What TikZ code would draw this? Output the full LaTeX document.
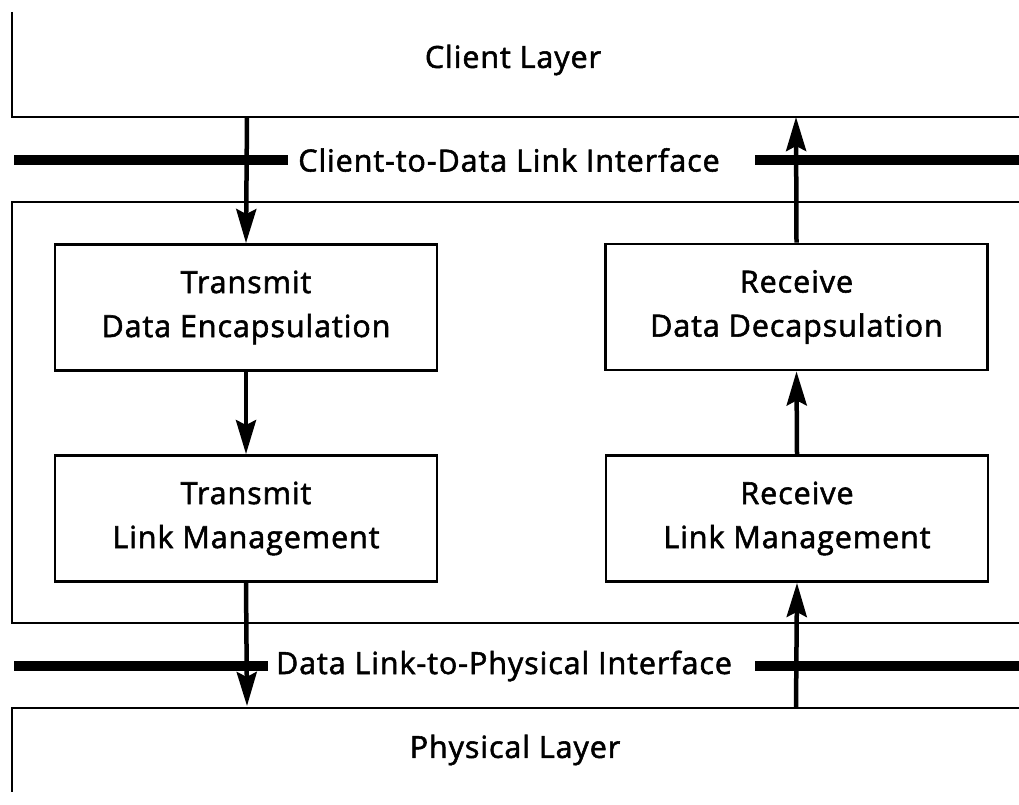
\documentclass[tikz,border=0pt]{standalone}
\usepackage{fontspec}
\setmainfont{Open Sans}[FakeBold=1.8,LetterSpace=3]
\usetikzlibrary{arrows.meta}
\begin{document}
\begin{tikzpicture}[x=1pt,y=-1pt,
  thin line/.style={line width=2.6pt},
  iface/.style={line width=10pt},
  block/.style={draw,line width=2.8pt,minimum width=382pt,minimum height=126pt,align=center,inner sep=0pt,font=\fontsize{30.5}{44}\selectfont},
  lbl/.style={font=\fontsize{30.5}{34}\selectfont,inner sep=0pt},
  flow/.style={line width=4.5pt,-{Stealth[length=34pt,width=20pt,inset=5pt]},shorten >=0pt},
]
\useasboundingbox (0,0) rectangle (1019,805);
% Client layer
\draw[thin line] (12,12) -- (12,117) -- (1019,117);
\node[lbl] (client) at (513,60) {Client Layer};
% Client-to-Data Link interface
\node[lbl] (ci) at (509,160) {Client-to-Data Link Interface};
\draw[iface] (14,160) -- (288,160);
\draw[iface] (755,160) -- (1019,160);
% Data link layer box
\draw[thin line] (1019,202) -- (12,202) -- (12,623) -- (1019,623);
% Data Link-to-Physical interface
\node[lbl] (pi) at (504,666) {Data Link-to-Physical Interface};
\draw[iface] (14,666) -- (268,666);
\draw[iface] (755,666) -- (1019,666);
% Physical layer
\draw[thin line] (1019,708) -- (12,708) -- (12,792);
\node[lbl] (phys) at (515,750) {Physical Layer};
% Blocks
\node[block] (tde) at (246,307.5) {Transmit\\Data Encapsulation};
\node[block] (tlm) at (246,518.5) {Transmit\\Link Management};
\node[block] (rdd) at (796.5,307) {Receive\\Data Decapsulation};
\node[block] (rlm) at (797,518.5) {Receive\\Link Management};
% connector end points
\coordinate (ctop) at (247,117);
\coordinate (cbot) at (247,706);
\coordinate (rtop) at (796,117);
\coordinate (rbot) at (796,708);
% flows
\draw[flow] (ctop) -- (tde.north);
\draw[flow] (tde.south) -- (tlm.north);
\draw[flow] (tlm.south) -- (cbot);
\draw[flow] (rbot) -- (rlm.south);
\draw[flow] (rlm.north) -- (rdd.south);
\draw[flow] (rdd.north) -- (rtop);
\end{tikzpicture}
\end{document}
